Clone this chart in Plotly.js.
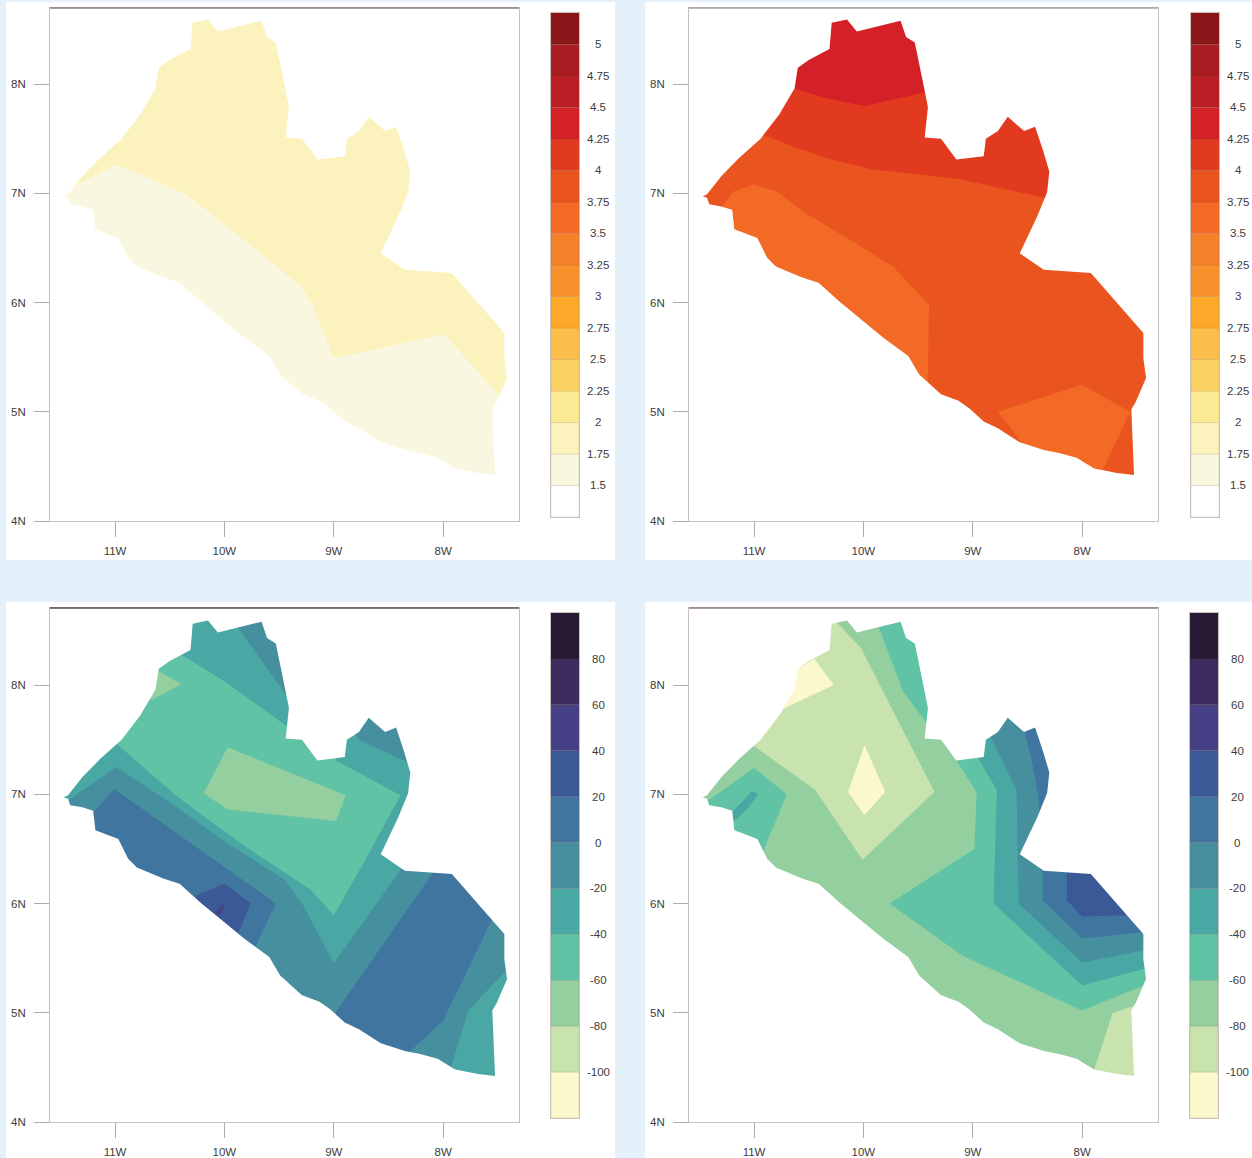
<!DOCTYPE html>
<html>
<head>
<meta charset="utf-8">
<script src="https://cdn.plot.ly/plotly-3.0.1.min.js"></script>
<style>body{margin:0;background:#e4f1fa}</style>
</head>
<body>
<div id="chart" style="width:1252px;height:1158px"></div>
<script>
var lonTicks = [-11, -10, -9, -8];
var lonLabels = ['11W', '10W', '9W', '8W'];
var latTicks = [4, 5, 6, 7, 8];
var latLabels = ['4N', '5N', '6N', '7N', '8N'];

// colour scales, bottom to top
var warmEdges = [1.25, 1.5, 1.75, 2, 2.25, 2.5, 2.75, 3, 3.25, 3.5, 3.75, 4, 4.25, 4.5, 4.75, 5, 5.25];
var warmLabels = ['1.5', '1.75', '2', '2.25', '2.5', '2.75', '3', '3.25', '3.5', '3.75', '4', '4.25', '4.5', '4.75', '5'];
var warmColours = ['#ffffff', '#faf7e0', '#fbf2bd', '#fbeb94', '#fad264', '#fcbe4a', '#fca92a', '#f8912c',
    '#f57f2a', '#f26a25', '#e9541f', '#e23a1e', '#d42027', '#bc1e25', '#a81c22', '#8b161a'];
var coolEdges = [-120, -100, -80, -60, -40, -20, 0, 20, 40, 60, 80, 100];
var coolLabels = ['-100', '-80', '-60', '-40', '-20', '0', '20', '40', '60', '80'];
var coolColours = ['#fcf8ce', '#c9e3ae', '#94cf9f', '#60c3a5', '#49a8a4', '#458f9f', '#3f759f', '#3b5997',
    '#453f85', '#3b2b5f', '#271a35'];

// country outline, lon/lat
var coast = [[-11.47, 6.97], [-11.43, 6.99], [-11.30, 7.155], [-11.14, 7.32], [-10.94, 7.50], [-10.77, 7.72],
    [-10.63, 7.96], [-10.60, 8.15], [-10.50, 8.22], [-10.31, 8.32], [-10.29, 8.56], [-10.15, 8.59], [-10.06, 8.48],
    [-9.66, 8.58], [-9.61, 8.43], [-9.53, 8.38], [-9.46, 8.04], [-9.41, 7.79], [-9.44, 7.51], [-9.29, 7.50],
    [-9.15, 7.31], [-8.90, 7.34], [-8.88, 7.50], [-8.77, 7.57], [-8.68, 7.70], [-8.53, 7.57], [-8.43, 7.61],
    [-8.36, 7.40], [-8.30, 7.20], [-8.32, 7.01], [-8.41, 6.79], [-8.57, 6.45], [-8.35, 6.30], [-7.92, 6.27],
    [-7.44, 5.72], [-7.44, 5.49], [-7.415, 5.31], [-7.51, 5.09], [-7.55, 5.02], [-7.525, 4.42], [-7.68, 4.44],
    [-7.89, 4.48], [-8.05, 4.58], [-8.20, 4.62], [-8.35, 4.65], [-8.57, 4.72], [-8.77, 4.85], [-8.90, 4.91],
    [-9.03, 5.03], [-9.13, 5.10], [-9.29, 5.16], [-9.49, 5.34], [-9.59, 5.51], [-9.82, 5.68], [-10.22, 6.01],
    [-10.41, 6.18], [-10.56, 6.23], [-10.80, 6.33], [-10.88, 6.41], [-10.97, 6.59], [-11.18, 6.67], [-11.20, 6.85],
    [-11.30, 6.88], [-11.41, 6.90], [-11.43, 6.96], [-11.47, 6.97]];
var maskFrame = [[-11.9, 6.97], [-11.9, 3.7], [-7.0, 3.7], [-7.0, 9], [-11.9, 9], [-11.9, 6.97], [-11.47, 6.97]];

// panel 1 bands
var a_north = [[-11.7, 6.9], [-10.99, 7.26], [-10.76, 7.17], [-10.37, 7.0], [-10.09, 6.79], [-9.73, 6.5], [-9.30, 6.15],
    [-9.195, 5.98], [-9.0, 5.49], [-7.99, 5.71], [-7.49, 5.155], [-7.2, 4.85], [-7.2, 8.9], [-11.7, 8.9]];

// panel 2 bands
var b_southwest = [[-11.30, 6.88], [-11.18, 7.02], [-11, 7.08], [-10.80, 7.02], [-10.53, 6.82], [-10.10, 6.56], [-9.73, 6.33],
    [-9.40, 5.98], [-9.41, 5.29], [-9.35, 5.1], [-9.5, 4.8], [-11.5, 6.0], [-11.35, 6.7]];
var b_southeast = [[-8.77, 5.0], [-8.0, 5.25], [-7.56, 5.0], [-7.81, 4.47], [-7.85, 4.35], [-8.5, 4.5], [-8.57, 4.74]];
var b_upper = [[-11.1, 7.6], [-10.90, 7.53], [-10.65, 7.43], [-10.34, 7.32], [-9.92, 7.22], [-9.125, 7.13], [-8.40, 6.97],
    [-8.1, 6.9], [-8.1, 8.9], [-11.1, 8.9]];
var b_top = [[-10.8, 8.01], [-10.63, 7.96], [-10.34, 7.87], [-9.99, 7.80], [-9.45, 7.92], [-9.3, 7.96], [-9.3, 8.9], [-10.8, 8.9]];

// panel 3 bands
var c_patchNorth = [[-10.59, 8.12], [-10.39, 8.01], [-10.67, 7.86], [-10.9, 7.9], [-10.8, 8.2]];
var c_patchMiddle = [[-9.97, 7.43], [-10.19, 7.01], [-9.97, 6.86], [-8.98, 6.755], [-8.89, 6.99]];
var c_south = [[-11.1, 7.6], [-10.98, 7.46], [-10.70, 7.21], [-10.43, 6.98], [-10.15, 6.77], [-9.76, 6.49], [-9.21, 6.125],
    [-9.0, 5.89], [-8.71, 6.40], [-8.39, 6.99], [-8.98, 7.31], [-8.98, 7.9], [-7.2, 7.9], [-7.2, 3.9], [-11.7, 3.9], [-11.7, 7.6]];
var c_north = [[-10.5, 8.35], [-10.38, 8.27], [-9.97, 8.015], [-9.44, 7.63], [-9.3, 7.55], [-9.0, 7.7], [-9, 8.9], [-10.5, 8.9]];
var c_northEdge = [[-9.91, 8.7], [-9.88, 8.53], [-9.73, 8.32], [-9.42, 7.89], [-9.3, 7.75], [-9.3, 8.9], [-9.91, 8.9]];
var c_lobe = [[-8.85, 7.62], [-8.77, 7.50], [-8.34, 7.30], [-8.2, 7.24], [-8.2, 7.9], [-8.85, 7.9]];
var c_southInner = [[-11.45, 6.93], [-11.39, 6.97], [-10.99, 7.25], [-10.49, 6.92], [-9.97, 6.55], [-9.45, 6.22], [-9.28, 5.985],
    [-9.0, 5.45], [-8.39, 6.305], [-8.33, 6.4], [-7.2, 6.4], [-7.2, 3.9], [-11.7, 3.9], [-11.7, 6.8]];
var c_coastWest = [[-11.25, 6.8], [-11.19, 6.84], [-11.01, 7.05], [-9.53, 6.0], [-9.71, 5.62], [-9.78, 5.45], [-11.3, 5.45]];
var c_coastEast = [[-9.1, 4.7], [-9.0, 4.96], [-8.97, 5.02], [-8.10, 6.27], [-8.05, 6.5], [-7.45, 6.0], [-7.57, 5.82], [-8.0, 4.93],
    [-8.32, 4.63], [-8.35, 4.4]];
var c_corner = [[-7.3, 5.5], [-7.42, 5.39], [-7.77, 5.02], [-7.93, 4.49], [-7.97, 4.3], [-7.2, 4.3]];
var c_peak = [[-10.3, 6.02], [-10.24, 6.08], [-10.0, 6.18], [-9.76, 6.0], [-9.87, 5.74], [-9.95, 5.65]];
var c_sliver = [[-10.09, 5.91], [-10.0, 6.0], [-10.04, 5.89]];

// panel 4 bands
var d_northwest = [[-11.05, 7.55], [-11, 7.44], [-10.44, 7.04], [-10.01, 6.40], [-9.35, 7.02], [-10.02, 8.335], [-10.24, 8.57],
    [-10.27, 8.7], [-11.1, 8.7]];
var d_dryNorth = [[-10.60, 8.15], [-10.45, 8.24], [-10.27, 8.0], [-10.74, 7.78], [-10.9, 7.8], [-10.8, 8.2], [-10.5, 8.35]];
var d_dryMiddle = [[-9.99, 7.45], [-9.80, 7.02], [-9.99, 6.81], [-10.14, 7.02]];
var d_west = [[-11.5, 6.9], [-11.41, 6.95], [-11, 7.24], [-10.70, 7.0], [-10.90, 6.52], [-10.95, 6.3], [-11.6, 6.5]];
var d_westCore = [[-11.02, 7.03], [-10.96, 7.0], [-11.05, 6.88], [-11.17, 6.76], [-11.21, 6.8], [-11.19, 6.85], [-11.1, 6.94]];
var d_northEast = [[-9.88, 8.7], [-9.86, 8.53], [-9.64, 7.95], [-9.43, 7.66], [-9.3, 7.6], [-9.3, 8.7]];
var d_east1 = [[-9.12, 7.6], [-9.15, 7.31], [-8.965, 7.02], [-8.985, 6.50], [-9.76, 6.0], [-9.09, 5.52], [-8.0, 5.02], [-7.51, 5.22],
    [-7.3, 5.3], [-7.2, 7.9], [-9.12, 7.9]];
var d_east2 = [[-8.97, 7.45], [-8.95, 7.33], [-8.78, 7.04], [-8.81, 6.0], [-8.0, 5.25], [-7.44, 5.40], [-7.3, 5.44], [-7.2, 7.9], [-8.97, 7.9]];
var d_east3 = [[-8.86, 7.62], [-8.83, 7.51], [-8.60, 7.04], [-8.58, 6.0], [-8.0, 5.46], [-7.44, 5.57], [-7.3, 5.6], [-7.2, 7.9], [-8.86, 7.9]];
var d_lobe = [[-8.54, 7.65], [-8.525, 7.56], [-8.46, 7.31], [-8.40, 6.98], [-8.39, 6.82], [-8.37, 6.7], [-8.2, 6.7], [-8.2, 7.7]];
var d_east4 = [[-8.36, 6.5], [-8.36, 6.03], [-8.0, 5.68], [-7.44, 5.74], [-7.3, 5.76], [-7.3, 6.5]];
var d_east5 = [[-8.14, 6.5], [-8.14, 6.03], [-8.0, 5.88], [-7.65, 5.89], [-7.4, 5.89], [-7.4, 6.5]];
var d_corner = [[-7.4, 5.1], [-7.72, 5.0], [-7.89, 4.48], [-7.92, 4.3], [-7.3, 4.3]];

var W = 1252, H = 1158;
var bg = [[-12, 3.5], [-7, 3.5], [-7, 9.2], [-12, 9.2]];

var panels = [
    {box: [50, 519, 8, 521], bar: [551, 579, 13, 517], card: [6, 615, 2, 560], top: '#8f817c', edges: warmEdges, labels: warmLabels, colours: warmColours,
        bands: [[bg, 1], [a_north, 2]]},
    {box: [689, 1158, 8, 521], bar: [1191, 1219, 13, 517], card: [645, 1252, 2, 560], top: '#aaa3a0', edges: warmEdges, labels: warmLabels, colours: warmColours,
        bands: [[bg, 10], [b_southwest, 9], [b_southeast, 9], [b_upper, 11], [b_top, 12]]},
    {box: [50, 519, 608, 1122], bar: [551, 579, 613, 1118], card: [6, 615, 602, 1158], top: '#5d4c4a', edges: coolEdges, labels: coolLabels, colours: coolColours,
        bands: [[bg, 3], [c_patchNorth, 2], [c_patchMiddle, 2], [c_south, 4], [c_north, 4], [c_northEdge, 5], [c_lobe, 5],
            [c_southInner, 5], [c_coastWest, 6], [c_coastEast, 6], [c_corner, 4], [c_peak, 7], [c_sliver, 8]]},
    {box: [689, 1158, 608, 1122], bar: [1190, 1218, 613, 1118], card: [645, 1252, 602, 1158], top: '#8f817c', edges: coolEdges, labels: coolLabels, colours: coolColours,
        bands: [[bg, 2], [d_northwest, 1], [d_dryNorth, 0], [d_dryMiddle, 0], [d_west, 3], [d_westCore, 4], [d_northEast, 3],
            [d_east1, 3], [d_east2, 4], [d_east3, 5], [d_lobe, 6], [d_east4, 6], [d_east5, 7], [d_corner, 1]]}
];

function col(pts, i) {
    return pts.map(function (p) { return p[i]; });
}

var font = {family: 'Liberation Sans, Arial, sans-serif', size: 11.5, color: '#3c3c3c'};
var data = [];
var layout = {
    width: W, height: H,
    margin: {l: 0, r: 0, t: 0, b: 0},
    paper_bgcolor: '#e4f1fa',
    plot_bgcolor: '#ffffff',
    showlegend: false,
    hovermode: false,
    font: font,
    shapes: [],
    annotations: []
};

panels.forEach(function (p, k) {
    var mapX = 'x' + (k * 2 + 1), mapY = 'y' + (k * 2 + 1);
    var barX = 'x' + (k * 2 + 2), barY = 'y' + (k * 2 + 2);

    // white card behind each map
    layout.shapes.push({type: 'rect', xref: 'paper', yref: 'paper', layer: 'below', line: {width: 0}, fillcolor: '#ffffff',
        x0: p.card[0] / W, x1: p.card[1] / W, y0: 1 - p.card[3] / H, y1: 1 - p.card[2] / H});
    layout.shapes.push({type: 'line', xref: 'paper', yref: 'paper', line: {color: p.top, width: 1.5},
        x0: p.box[0] / W, x1: p.box[1] / W, y0: 1 - p.box[2] / H, y1: 1 - p.box[2] / H});

    p.bands.forEach(function (b) {
        data.push({x: col(b[0], 0), y: col(b[0], 1), xaxis: mapX, yaxis: mapY, type: 'scatter', mode: 'none',
            fill: 'toself', fillcolor: p.colours[b[1]]});
    });
    var mask = coast.concat(maskFrame);
    data.push({x: col(mask, 0), y: col(mask, 1), xaxis: mapX, yaxis: mapY, type: 'scatter', mode: 'none',
        fill: 'toself', fillcolor: '#ffffff'});

    // colour bar
    var n = p.colours.length;
    data.push({
        type: 'bar', xaxis: barX, yaxis: barY, width: 1,
        x: p.colours.map(function () { return 0.5; }),
        base: p.edges.slice(0, n),
        y: p.colours.map(function (c, i) { return p.edges[i + 1] - p.edges[i]; }),
        marker: {color: p.colours, line: {color: 'rgba(110,80,40,0.22)', width: 0.6}}
    });
    // labels sit centred beside the bar
    p.labels.forEach(function (t) {
        layout.annotations.push({text: t, showarrow: false, xref: 'paper', yref: barY, x: (p.bar[0] + 47) / W, y: Number(t),
            xanchor: 'center', yanchor: 'middle', font: font});
    });

    var axisLine = {showline: true, linecolor: '#c9c0bc', linewidth: 1, mirror: true, showgrid: false, zeroline: false, fixedrange: true};
    layout['xaxis' + (k * 2 + 1)] = Object.assign({}, axisLine, {
        domain: [p.box[0] / W, p.box[1] / W], anchor: mapY, range: [-11.595, -7.306],
        tickmode: 'array', tickvals: lonTicks, ticktext: lonLabels, ticks: 'outside', ticklen: 15, tickcolor: '#b5aaa8', tickwidth: 1,
        ticklabelstandoff: 4, tickfont: font
    });
    layout['yaxis' + (k * 2 + 1)] = Object.assign({}, axisLine, {
        domain: [1 - p.box[3] / H, 1 - p.box[2] / H], anchor: mapX, range: [4, k < 2 ? 8.696 : 8.705],
        tickmode: 'array', tickvals: latTicks, ticktext: latLabels, ticks: 'outside', ticklen: 15, tickcolor: '#b5aaa8', tickwidth: 1,
        ticklabelstandoff: 6, tickfont: font
    });
    layout['xaxis' + (k * 2 + 2)] = Object.assign({}, axisLine, {
        domain: [p.bar[0] / W, p.bar[1] / W], anchor: barY, range: [0, 1], showticklabels: false, ticks: ''
    });
    layout['yaxis' + (k * 2 + 2)] = Object.assign({}, axisLine, {
        domain: [1 - p.bar[3] / H, 1 - p.bar[2] / H], anchor: barX, range: [p.edges[0], p.edges[n]], showticklabels: false, ticks: ''
    });
});

Plotly.newPlot('chart', data, layout, {displayModeBar: false, staticPlot: true});
</script>
</body>
</html>
